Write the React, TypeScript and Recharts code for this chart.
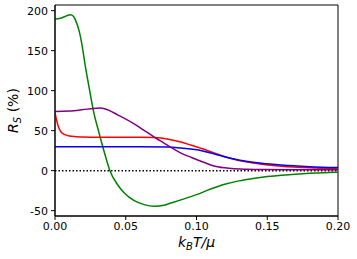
import React from "react";
import { Line, LineChart, XAxis, YAxis, ReferenceLine, ReferenceArea, Label } from "recharts";

// k_B T / mu values and R_S (%)
const greenT = [0, 0.004, 0.008, 0.011, 0.013, 0.015, 0.017, 0.019, 0.0215, 0.0245, 0.0275, 0.031, 0.035, 0.0388, 0.044, 0.049, 0.056, 0.063, 0.07, 0.077, 0.082, 0.089, 0.1, 0.11, 0.12, 0.13, 0.14, 0.15, 0.16, 0.17, 0.18, 0.19, 0.2];
const greenR = [189.6, 190.5, 193.5, 195, 193, 186, 175, 158, 130, 100, 72, 48, 22, 0, -17, -28, -37.5, -42.5, -44.6, -43.3, -40.5, -36.5, -30, -23, -17, -12.8, -9.8, -7.4, -5.6, -4.4, -3.3, -2.5, -2];

const redT = [0, 0.001, 0.002, 0.0036, 0.005, 0.007, 0.01, 0.015, 0.02, 0.03, 0.04, 0.05, 0.06, 0.07, 0.075, 0.08, 0.089, 0.095, 0.1036, 0.111, 0.118, 0.125, 0.135, 0.146, 0.16, 0.18, 0.2];
const redR = [73, 64, 57, 50, 47, 45, 43.3, 42.5, 42, 41.7, 41.7, 41.8, 41.8, 41.5, 40.8, 39.3, 35.8, 32.5, 27.6, 23, 18.6, 15, 11, 8, 5.5, 3.5, 2.5];

const blueT = [0, 0.02, 0.04, 0.06, 0.08, 0.089, 0.1036, 0.111, 0.118, 0.125, 0.135, 0.146, 0.16, 0.18, 0.2];
const blueR = [30, 30, 30, 30, 29.6, 28.2, 25, 21.6, 18.3, 15.2, 11.8, 9.2, 7, 5, 3.8];

const purpleT = [0, 0.01, 0.02, 0.027, 0.032, 0.035, 0.039, 0.044, 0.0488, 0.055, 0.0607, 0.066, 0.0714, 0.077, 0.082, 0.089, 0.0964, 0.1036, 0.113, 0.125, 0.135, 0.15, 0.175, 0.2];
const purpleR = [74, 74.5, 76.3, 77.8, 78.2, 77.4, 74.7, 70, 65.6, 59.5, 53, 47, 40.5, 34.5, 29, 22, 16.5, 11.5, 5.5, 2.7, 1.8, 1.3, 1.2, 1.2];

const xTicks = [0, 0.05, 0.1, 0.15, 0.2];
const yTicks = [-50, 0, 50, 100, 150, 200];

const toPoints = (t: number[], r: number[]) => t.map((x, i) => ({ x, y: r[i] }));

const series = [
  { name: "green", color: "green", data: toPoints(greenT, greenR) },
  { name: "red", color: "red", data: toPoints(redT, redR) },
  { name: "blue", color: "blue", data: toPoints(blueT, blueR) },
  { name: "purple", color: "purple", data: toPoints(purpleT, purpleR) },
];

const yMin = -56.7;
const yMax = 207.1;
const font = "DejaVu Sans, sans-serif";

const YLabel = (props: any) => {
  const vb = props.viewBox || { x: 0, y: 0, width: 0, height: 0 };
  const cx = 13;
  const cy = vb.y + vb.height / 2;
  return (
    <text
      x={cx}
      y={cy}
      transform={`rotate(-90, ${cx}, ${cy})`}
      textAnchor="middle"
      dominantBaseline="central"
      fontFamily={font}
      fontSize={14}
      fill="#000"
    >
      <tspan fontStyle="italic">R</tspan>
      <tspan fontStyle="italic" fontSize={10} dy={4}>S</tspan>
      <tspan dy={-4}> (%)</tspan>
    </text>
  );
};

const XLabel = (props: any) => {
  const vb = props.viewBox || { x: 0, y: 0, width: 0, height: 0 };
  const cx = vb.x + vb.width / 2;
  return (
    <text x={cx} y={247} textAnchor="middle" fontFamily={font} fontSize={14} fill="#000" fontStyle="italic">
      k
      <tspan fontSize={10} dy={3}>B</tspan>
      <tspan dy={-3}>T/μ</tspan>
    </text>
  );
};

export default function App() {
  return (
    <div style={{ position: "absolute", left: 0, top: 0, background: "#fff" }}>
      <LineChart width={357} height={259} margin={{ top: 5, right: 19, bottom: 0, left: 0 }}>
        <XAxis
          type="number"
          dataKey="x"
          domain={[0, 0.2]}
          ticks={xTicks}
          tickFormatter={(v: number) => v.toFixed(2)}
          height={43}
          tickSize={4}
          tickMargin={2}
          stroke="#000"
          tick={{ fill: "#000", fontSize: 11, fontFamily: font }}
          allowDataOverflow
        >
          <Label content={<XLabel />} />
        </XAxis>
        <YAxis
          type="number"
          domain={[yMin, yMax]}
          ticks={yTicks}
          width={55}
          tickSize={4}
          tickMargin={3}
          stroke="#000"
          tick={{ fill: "#000", fontSize: 11, fontFamily: font }}
          allowDataOverflow
        >
          <Label content={<YLabel />} />
        </YAxis>
        <ReferenceLine y={0} stroke="#000" strokeWidth={1.5} strokeDasharray="1.5 2" />
        {series.map((s) => (
          <Line
            key={s.name}
            data={s.data}
            dataKey="y"
            type="monotone"
            stroke={s.color}
            strokeWidth={1.5}
            dot={false}
            activeDot={false}
            isAnimationActive={false}
          />
        ))}
        <ReferenceArea x1={0} x2={0.2} y1={yMin} y2={yMax} fill="none" stroke="#000" strokeWidth={1} ifOverflow="visible" />
      </LineChart>
    </div>
  );
}
